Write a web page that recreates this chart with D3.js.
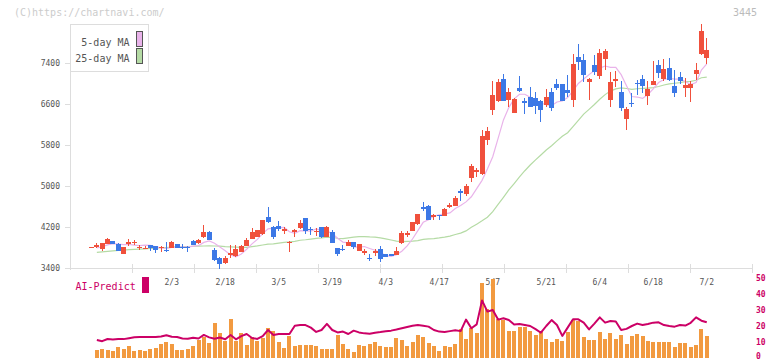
<!DOCTYPE html>
<html><head><meta charset="utf-8">
<script src="https://cdn.jsdelivr.net/npm/d3@7"></script>
<style>body{margin:0;background:#fff}svg{display:block}</style>
</head><body><svg id="c" width="772" height="361"></svg>
<script>
const opens  = [3800,3810,3765,3875,3930,3870,3680,3865,3895,3795,3785,3845,3820,3785,3755,3790,3865,3805,3815,3935,3880,4000,4110,3750,3600,3490,3655,3635,3720,3835,3965,4010,4060,4400,4205,4225,4125,3880,4105,4175,4375,4170,4105,4200,4010,4110,3790,3770,3835,3905,3740,3700,3600,3700,3770,3675,3670,3650,3880,4045,4130,4250,4595,4615,4390,4430,4420,4600,4610,4905,4845,5160,5280,5235,5900,6480,6665,7090,6680,6430,6905,6665,6730,6710,6665,6580,6835,6995,6995,6875,6680,7510,7455,7035,7360,7145,7470,6680,7040,6840,6310,6625,7015,7090,6755,6970,7360,7090,7300,6950,7120,6920,6920,7180,7570,7505];
const highs  = [3815,3880,3890,3990,3935,3890,3815,3965,3945,3850,3825,3850,3825,3820,3905,3920,3870,3860,3820,3940,3965,4240,4120,3785,3610,3630,3850,3850,3850,3990,4175,4150,4340,4600,4210,4315,4200,3920,4155,4335,4380,4205,4175,4205,4210,4145,3795,3840,3950,3910,3870,3775,3680,3775,3830,3680,3675,3815,4115,4120,4295,4460,4680,4620,4445,4435,4580,4660,4810,4940,5040,5430,5345,6100,6155,7050,7090,7185,6905,6720,7145,6720,6925,6830,6670,6885,6910,7090,7000,7165,7570,7770,7585,7115,7555,7665,7665,7215,7250,7050,6540,6820,7065,7175,7055,7440,7460,7480,7505,7255,7225,7110,7040,7405,8160,7880];
const lows   = [3795,3800,3740,3860,3870,3740,3670,3835,3840,3745,3775,3730,3700,3720,3715,3785,3790,3770,3720,3840,3870,3990,3940,3535,3390,3480,3590,3620,3710,3830,3960,4000,4050,4280,3970,4130,4070,3720,4010,4170,4065,4045,4030,3990,4005,3890,3625,3730,3830,3775,3735,3660,3540,3635,3520,3605,3630,3645,3860,4000,4125,4245,4510,4330,4335,4335,4415,4565,4605,4700,4805,5085,5180,5215,5800,6385,6640,6660,6550,6425,6840,6400,6545,6410,6255,6545,6465,6880,6650,6740,6540,7260,7030,6670,7165,7090,7260,6540,6930,6470,6100,6535,6775,6815,6590,6965,7100,7040,7050,6735,6985,6735,6640,7070,7565,7390];
const closes = [3810,3845,3890,3970,3875,3740,3815,3905,3905,3810,3800,3790,3755,3815,3745,3905,3800,3795,3785,3850,3955,4110,3950,3555,3470,3595,3700,3765,3830,3945,4110,4140,4335,4290,4010,4160,4160,3915,4145,4270,4130,4140,4130,4000,4200,3895,3675,3760,3915,3815,3865,3740,3570,3740,3575,3610,3635,3740,4075,4090,4290,4455,4545,4335,4440,4410,4550,4635,4770,4860,5005,5390,5310,5975,6075,6775,7035,6665,6835,6700,6860,6625,6545,6560,6485,6730,6515,6910,6650,6820,7380,7425,7160,7080,7230,7600,7635,7035,7080,6515,6505,6595,6985,6950,6895,7050,7210,7285,7070,6820,7050,6970,6995,7265,8025,7655];
const ma5    = [null,3790,3815,3850,3877,3864,3858,3861,3848,3835,3847,3842,3812,3794,3781,3802,3804,3812,3806,3827,3837,3899,3930,3884,3808,3736,3654,3617,3672,3767,3870,3958,4072,4164,4177,4187,4191,4107,4078,4130,4124,4120,4163,4134,4120,4073,3980,3906,3889,3812,3806,3819,3781,3746,3698,3647,3626,3660,3727,3830,3966,4130,4291,4343,4413,4437,4456,4474,4561,4620,4690,4790,4950,5110,5330,5570,5930,6290,6530,6700,6790,6790,6730,6670,6615,6589,6567,6640,6658,6725,6855,7000,7087,7173,7255,7299,7341,7316,7316,7173,6954,6746,6736,6710,6786,6895,7018,7078,7102,7087,7087,7039,6981,7020,7261,7382];
const ma25   = [null,3705,3715,3725,3735,3745,3750,3758,3765,3770,3775,3782,3788,3795,3800,3806,3812,3816,3820,3824,3827,3829,3830,3829,3826,3817,3811,3806,3801,3804,3818,3831,3849,3864,3872,3886,3901,3908,3921,3942,3951,3964,3978,3986,4000,3998,3981,3973,3987,4001,4012,4014,4006,4002,3987,3967,3947,3923,3915,3918,3923,3935,3960,3968,3975,3986,4002,4022,4053,4080,4124,4193,4255,4320,4390,4500,4640,4780,4923,5048,5178,5298,5410,5509,5605,5703,5785,5880,5972,6040,6160,6280,6402,6495,6590,6693,6783,6852,6896,6914,6903,6886,6898,6903,6911,6918,6942,6971,6992,7005,7018,7036,7040,7064,7112,7123];
const volumes = [null,5.0,5.6,5.2,4.4,6.7,5.6,7.5,4.4,4.8,4.4,5.4,6.0,8.5,10.0,8.8,5.0,5.0,5.4,7.5,11.0,12.9,9.4,21.9,15.6,10.6,24.4,10.6,15.6,8.1,12.9,10.6,12.5,19.0,16.9,10.0,6.3,13.5,7.5,8.1,8.1,8.1,7.5,5.4,5.6,5.6,14.4,8.8,5.4,3.8,8.1,7.7,8.8,10.0,7.5,6.9,6.9,12.5,11.0,7.5,10.0,14.4,13.1,9.4,7.5,4.4,7.5,6.9,8.8,17.9,11.9,18.8,15.6,46.9,30.6,49.4,24.4,23.8,17.1,17.1,19.4,19.4,17.1,14.4,17.1,11.9,10.0,11.9,10.6,16.5,23.8,23.1,13.1,11.3,11.3,16.5,11.9,15.6,11.9,14.4,8.8,13.8,15.0,13.8,10.6,10.0,10.0,10.0,10.0,6.9,9.4,9.4,6.9,8.1,18.1,13.8];
const aiPredict = [null,11.2,10.5,11.9,11.6,11.8,11.8,12.4,12.9,13.1,13.1,13.1,13.1,13.4,14.2,13.3,13.1,12.2,12.0,12.7,12.2,14.4,12.9,12.0,12.8,11.7,14.4,11.7,13.7,15.0,12.5,11.9,13.7,17.5,14.4,15.0,15.0,15.0,20.2,20.6,20.6,19.0,16.3,17.5,21.3,17.5,16.0,16.5,15.0,17.1,16.0,15.4,15.2,15.8,16.2,16.7,17.1,17.8,18.6,19.4,20.2,20.6,20.2,19.6,17.5,16.5,16.3,16.8,17.3,16.8,24.0,18.6,21.0,36.0,29.0,30.0,24.0,24.8,23.8,21.0,21.2,20.6,20.0,18.0,15.8,20.0,23.7,20.6,13.8,19.0,24.2,24.2,22.1,17.9,21.5,25.4,22.1,23.1,22.8,17.5,18.2,20.0,21.5,20.6,21.3,22.1,22.3,20.6,20.0,19.6,20.6,20.3,22.0,25.4,23.3,22.3];
const dateLabels = ["2/3","2/18","3/5","3/19","4/3","4/17","5/7","5/21","6/4","6/18","7/2"];
const dateLabelIdx = [15,25,35,45,55,65,75,85,95,105,115];
const priceTicks = [3400,4200,5000,5800,6600,7400];
const subTicks = [0,10,20,30,40,50];
const gridTickCount = 11;
const legendItems = ["5-day MA","25-day MA"];

const RED="#f0503c", BLUE="#3c78e6", PINK="#e9b3ea", GREEN="#b5dba5", MAG="#cc0066", ORANGE="#f29a40", AX="#dddddd", TXT="#555";
const FONT="'DejaVu Sans Mono', monospace";

const svg = d3.select("#c");
const n = closes.length;
const x = d3.scaleLinear().domain([0, n-1]).range([91.5, 706.75]);
const y = d3.scaleLinear().domain([3400, 7400]).range([268, 63]);
const v = d3.scaleLinear().domain([0, 50]).range([358, 278]);
const g = d3.scaleLinear().domain([0, gridTickCount]).range([70.5, 752.3]);

svg.append("text").attr("x",14).attr("y",16).attr("font-family",FONT).attr("font-size",10).attr("fill","#cccccc").text("(C)https://chartnavi.com/");
svg.append("text").attr("x",757).attr("y",16).attr("text-anchor","end").attr("font-family",FONT).attr("font-size",10).attr("fill","#bbbbbb").text("3445");

const ax = svg.append("g").attr("shape-rendering","crispEdges");
ax.append("line").attr("x1",70.5).attr("x2",70.5).attr("y1",24).attr("y2",270).attr("stroke",AX);
ax.append("line").attr("x1",70).attr("x2",753).attr("y1",268.5).attr("y2",268.5).attr("stroke",AX);
d3.range(1, gridTickCount+1).forEach(k=>{
  const gx = Math.round(g(k))+0.5;
  ax.append("line").attr("x1",gx).attr("x2",gx).attr("y1",264).attr("y2",273).attr("stroke",AX);
});
priceTicks.forEach(t=>{
  const yy = Math.round(y(t))+0.5;
  ax.append("line").attr("x1",65).attr("x2",70).attr("y1",yy).attr("y2",yy).attr("stroke",AX);
  svg.append("text").attr("x",60).attr("y",y(t)).attr("dy","0.35em").attr("text-anchor","end")
    .attr("font-family",FONT).attr("font-size",8).attr("fill",TXT).text(t);
});
dateLabels.forEach((d,k)=>{
  svg.append("text").attr("x",x(dateLabelIdx[k])).attr("y",285).attr("text-anchor","middle")
    .attr("font-family",FONT).attr("font-size",8).attr("fill",TXT).text(d);
});

const line = arr => d3.line().defined(d=>d!==null).x((d,i)=>x(i)).y(d=>y(d))(arr);
svg.append("path").attr("d",line(ma25)).attr("fill","none").attr("stroke",GREEN).attr("stroke-width",1.2);
svg.append("path").attr("d",line(ma5)).attr("fill","none").attr("stroke",PINK).attr("stroke-width",1.2);

const cg = svg.append("g").attr("shape-rendering","crispEdges");
closes.forEach((c,i)=>{
  const o=opens[i], col = c>=o ? RED : BLUE;
  const bx = Math.round(x(i)-2.5);
  cg.append("line").attr("x1",bx+2.5).attr("x2",bx+2.5).attr("y1",y(highs[i])).attr("y2",y(lows[i])).attr("stroke",col);
  const top = y(Math.max(o,c)), bot = y(Math.min(o,c));
  cg.append("rect").attr("x",bx).attr("width",5).attr("y",top).attr("height",Math.max(1.2,bot-top)).attr("fill",col);
});

const lg = svg.append("g");
lg.append("rect").attr("x",70.5).attr("y",24.5).attr("width",78).attr("height",47).attr("fill","#fff").attr("stroke",AX).attr("shape-rendering","crispEdges");
[PINK,GREEN].forEach((col,k)=>{
  lg.append("text").attr("x",129.5).attr("y",46+k*15.7).attr("text-anchor","end").attr("font-family",FONT).attr("font-size",10).attr("fill",TXT).text(legendItems[k]);
  lg.append("rect").attr("x",136.5).attr("y",31.5+k*17).attr("width",6).attr("height",15).attr("fill",col).attr("stroke","#555").attr("shape-rendering","crispEdges");
});

svg.append("text").attr("x",75.5).attr("y",290).attr("font-family",FONT).attr("font-size",10).attr("fill",MAG).text("AI-Predict");
svg.append("rect").attr("x",142).attr("y",277).attr("width",7).attr("height",16).attr("fill",MAG);
const vg = svg.append("g").attr("shape-rendering","crispEdges");
volumes.forEach((vv,i)=>{
  if(vv===null) return;
  const bx = Math.round(x(i)-2);
  vg.append("rect").attr("x",bx).attr("width",4).attr("y",v(vv)).attr("height",v(0)-v(vv)).attr("fill",ORANGE);
});
const aline = d3.line().defined(d=>d!==null).x((d,i)=>x(i)).y(d=>v(d));
svg.append("path").attr("d",aline(aiPredict)).attr("fill","none").attr("stroke",MAG).attr("stroke-width",2).attr("stroke-linejoin","round");
subTicks.forEach(t=>{
  svg.append("text").attr("x",756).attr("y",Math.min(v(t),356)).attr("dy","0.35em").attr("font-family",FONT).attr("font-size",8).attr("font-weight","bold").attr("fill",MAG).text(t);
});
</script></body></html>
